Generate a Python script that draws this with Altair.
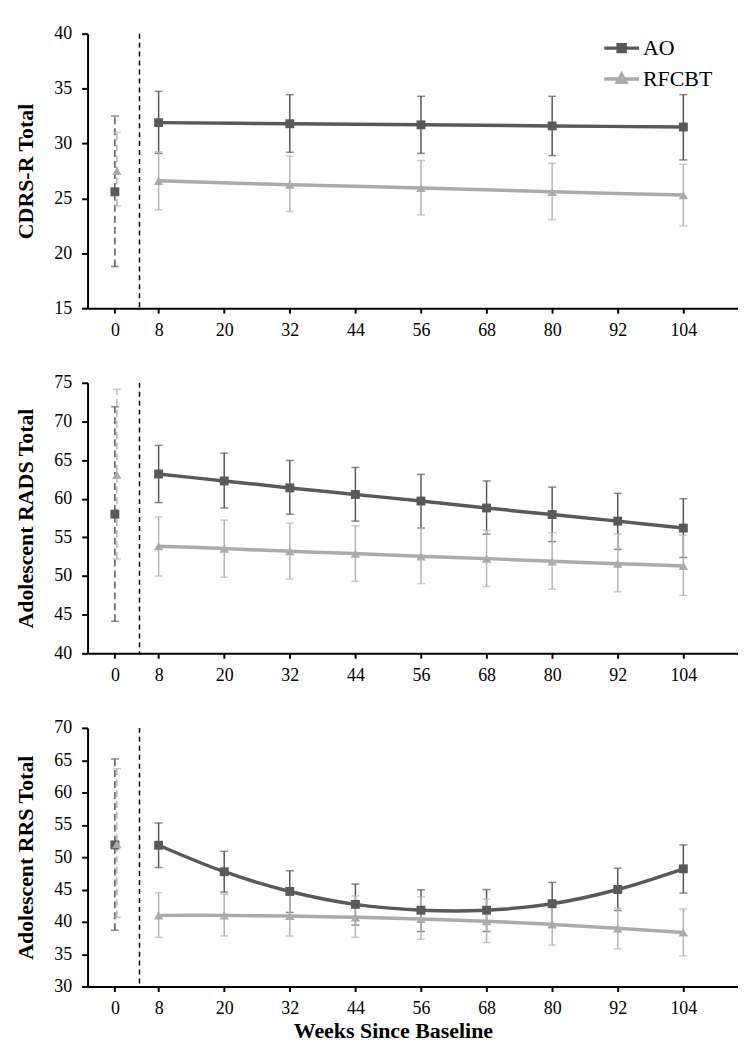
import altair as alt
import pandas as pd

FONT = "Liberation Serif"
X_TICKS = [0, 8, 20, 32, 44, 56, 68, 80, 92, 104]
X_DOMAIN = [-5, 114]
DIVIDER_WEEK = 4.5
SERIES = ["AO", "RFCBT"]
AO_COLOR = "#595959"
RF_COLOR = "#ababab"
AO_BAR = "#595959"
RF_BAR = "#b5b5b5"

# ---- Panel 1: CDRS-R Total ----
P1_WEEKS = [8, 32, 56, 80, 104]
P1_AO = [31.9, 31.8, 31.7, 31.6, 31.5]
P1_AO_HI = [34.75, 34.45, 34.3, 34.3, 34.45]
P1_AO_LO = [29.1, 29.2, 29.1, 28.9, 28.5]
P1_RF = [26.6, 26.25, 25.95, 25.6, 25.3]
P1_RF_HI = [29.25, 28.85, 28.45, 28.2, 28.1]
P1_RF_LO = [23.95, 23.8, 23.5, 23.05, 22.5]
P1_BASE_AO = [25.6, 18.8, 32.5]   # mean, lo, hi
P1_BASE_RF = [27.5, 24.3, 31.0]

# ---- Panel 2: Adolescent RADS Total ----
P2_WEEKS = [8, 20, 32, 44, 56, 68, 80, 92, 104]
P2_AO = [63.2, 62.3, 61.4, 60.55, 59.7, 58.8, 57.95, 57.1, 56.2]
P2_AO_HI = [66.9, 65.9, 64.95, 64.05, 63.15, 62.3, 61.5, 60.7, 60.0]
P2_AO_LO = [59.5, 58.8, 58.0, 57.1, 56.2, 55.4, 54.45, 53.45, 52.4]
P2_RF = [53.85, 53.55, 53.2, 52.9, 52.55, 52.25, 51.9, 51.6, 51.3]
P2_RF_HI = [57.65, 57.25, 56.85, 56.5, 56.2, 55.9, 55.6, 55.45, 55.3]
P2_RF_LO = [50.0, 49.85, 49.6, 49.3, 49.0, 48.65, 48.3, 47.95, 47.5]
P2_BASE_AO = [58.0, 44.15, 71.9]
P2_BASE_RF = [63.1, 52.2, 74.15]

# ---- Panel 3: Adolescent RRS Total ----
P3_WEEKS = [8, 20, 32, 44, 56, 68, 80, 92, 104]
P3_AO = [51.85, 47.75, 44.7, 42.7, 41.8, 41.8, 42.8, 45.0, 48.2]
P3_AO_HI = [55.3, 50.9, 47.9, 45.85, 44.95, 45.0, 46.1, 48.3, 51.9]
P3_AO_LO = [48.4, 44.6, 41.45, 39.5, 38.5, 38.5, 39.6, 41.75, 44.45]
P3_RF = [41.0, 41.0, 40.9, 40.7, 40.45, 40.1, 39.6, 39.0, 38.35]
P3_RF_HI = [44.5, 44.3, 44.1, 44.0, 43.85, 43.5, 42.9, 42.1, 42.0]
P3_RF_LO = [37.6, 37.8, 37.8, 37.6, 37.3, 36.8, 36.4, 35.8, 34.75]
P3_BASE_AO = [51.9, 38.7, 65.2]
P3_BASE_RF = [52.0, 40.7, 63.7]

# legend symbols: line with marker in the middle
AO_LEG_PATH = "M-1.4,0L1.4,0M-0.28,-0.28L0.28,-0.28L0.28,0.28L-0.28,0.28Z"
RF_LEG_PATH = "M-1.4,0L1.4,0M0,-0.36L0.34,0.26L-0.34,0.26Z"


def build_df(weeks, ao, ao_lo, ao_hi, rf, rf_lo, rf_hi, base_ao, base_rf):
    rows = []
    rows.append(dict(week=0, mean=base_ao[0], lo=base_ao[1], hi=base_ao[2], series="AO", phase="base"))
    rows.append(dict(week=0, mean=base_rf[0], lo=base_rf[1], hi=base_rf[2], series="RFCBT", phase="base"))
    for i, w in enumerate(weeks):
        rows.append(dict(week=w, mean=ao[i], lo=ao_lo[i], hi=ao_hi[i], series="AO", phase="follow"))
    for i, w in enumerate(weeks):
        rows.append(dict(week=w, mean=rf[i], lo=rf_lo[i], hi=rf_hi[i], series="RFCBT", phase="follow"))
    return pd.DataFrame(rows)


def panel(df, ytitle, ydomain, ystep, height, x_title=None, legend=False):
    xscale = alt.Scale(domain=X_DOMAIN, nice=False, zero=False)
    if x_title is None:
        xaxis = alt.Axis(values=X_TICKS, title=None, tickSize=5, labelPadding=8)
    else:
        xaxis = alt.Axis(values=X_TICKS, title=x_title, tickSize=5, labelPadding=8,
                         titleX=307, titleAnchor="middle", titleFontSize=22, titlePadding=3)
    yvals = list(range(ydomain[0], ydomain[1] + 1, ystep))
    yscale = alt.Scale(domain=ydomain, nice=False, zero=False)
    yaxis = alt.Axis(values=yvals, title=ytitle, tickSize=6, labelPadding=10, titlePadding=16)

    def X():
        return alt.X("week:Q", scale=xscale, axis=xaxis, title=x_title)

    def Y(field):
        return alt.Y(f"{field}:Q", scale=yscale, axis=yaxis, title=ytitle)

    base = alt.Chart(df)
    layers = []
    divider = alt.Chart(pd.DataFrame({"week": [DIVIDER_WEEK]})).mark_rule(
        color="black", strokeDash=[5, 4], strokeWidth=1.5
    ).encode(x=X())
    layers.append(divider)

    specs = [
        ("AO", AO_COLOR, AO_BAR, "square", 80, 0),
        ("RFCBT", RF_COLOR, RF_BAR, "triangle-up", 90, 2),
    ]
    # error bars
    for s, c, bc, sh, sz, off in specs:
        fol = base.transform_filter(f"datum.series == '{s}' && datum.phase == 'follow'")
        bas = base.transform_filter(f"datum.series == '{s}' && datum.phase == 'base'")
        layers.append(fol.mark_rule(color=bc, strokeWidth=1.5).encode(x=X(), y=Y("lo"), y2="hi:Q"))
        layers.append(fol.mark_tick(color=bc, orient="horizontal", size=8, thickness=1.5).encode(x=X(), y=Y("lo")))
        layers.append(fol.mark_tick(color=bc, orient="horizontal", size=8, thickness=1.5).encode(x=X(), y=Y("hi")))
        layers.append(bas.mark_rule(color=bc, strokeWidth=1.5, strokeDash=[7, 4], xOffset=off).encode(x=X(), y=Y("lo"), y2="hi:Q"))
        layers.append(bas.mark_tick(color=bc, orient="horizontal", size=8, thickness=1.5, xOffset=off).encode(x=X(), y=Y("lo")))
        layers.append(bas.mark_tick(color=bc, orient="horizontal", size=8, thickness=1.5, xOffset=off).encode(x=X(), y=Y("hi")))
    # lines
    for s, c, bc, sh, sz, off in specs:
        fol = base.transform_filter(f"datum.series == '{s}' && datum.phase == 'follow'")
        layers.append(fol.mark_line(color=c, strokeWidth=3.5, interpolate="catmull-rom").encode(
            x=X(), y=Y("mean"), order="week:Q"))
    # markers
    for s, c, bc, sh, sz, off in specs:
        fol = base.transform_filter(f"datum.series == '{s}' && datum.phase == 'follow'")
        bas = base.transform_filter(f"datum.series == '{s}' && datum.phase == 'base'")
        layers.append(fol.mark_point(filled=True, shape=sh, size=sz, color=c, opacity=1).encode(x=X(), y=Y("mean")))
        layers.append(bas.mark_point(filled=True, shape=sh, size=sz, color=c, opacity=1, xOffset=off).encode(x=X(), y=Y("mean")))

    if legend:
        leg = alt.Legend(orient="none", legendX=522.5, legendY=0, title=None,
                         labelFont=FONT, labelFontSize=22, labelColor="black",
                         symbolSize=625, symbolStrokeWidth=3.5, rowPadding=5,
                         labelOffset=7, symbolOpacity=1)
        dom = SERIES
        leg_layer = base.transform_filter("false").mark_point(filled=True, strokeWidth=3.5).encode(
            x=X(), y=Y("mean"),
            color=alt.Color("series:N", scale=alt.Scale(domain=dom, range=[AO_COLOR, RF_COLOR]), legend=leg),
            stroke=alt.Stroke("series:N", scale=alt.Scale(domain=dom, range=[AO_COLOR, RF_COLOR]), legend=leg),
            shape=alt.Shape("series:N", scale=alt.Scale(domain=dom, range=[AO_LEG_PATH, RF_LEG_PATH]), legend=leg),
        )
        layers.append(leg_layer)

    return alt.layer(*layers).properties(width=654, height=height)


df1 = build_df(P1_WEEKS, P1_AO, P1_AO_LO, P1_AO_HI, P1_RF, P1_RF_LO, P1_RF_HI, P1_BASE_AO, P1_BASE_RF)
df2 = build_df(P2_WEEKS, P2_AO, P2_AO_LO, P2_AO_HI, P2_RF, P2_RF_LO, P2_RF_HI, P2_BASE_AO, P2_BASE_RF)
df3 = build_df(P3_WEEKS, P3_AO, P3_AO_LO, P3_AO_HI, P3_RF, P3_RF_LO, P3_RF_HI, P3_BASE_AO, P3_BASE_RF)

p1 = panel(df1, "CDRS-R Total", [15, 40], 5, 276, legend=True)
p2 = panel(df2, "Adolescent RADS Total", [40, 75], 5, 272)
p3 = panel(df3, "Adolescent RRS Total", [30, 70], 5, 260, x_title="Weeks Since Baseline")

chart = alt.vconcat(p1, p2, p3, spacing=35).resolve_scale(
    x="independent", y="independent", color="independent", shape="independent", stroke="independent"
).resolve_legend(
    color="independent", shape="independent", stroke="independent"
).properties(
    padding={"left": 7, "top": 14, "right": 0, "bottom": 0},
    background="white",
).configure_view(stroke=None).configure_axis(
    grid=False,
    domainColor="black", domainWidth=2,
    tickColor="black", tickWidth=2,
    labelFont=FONT, labelFontSize=18, labelColor="black",
    titleFont=FONT, titleFontSize=22, titleFontWeight="bold", titleColor="black",
)

chart.save("out.html", embed_options={"renderer": "svg", "actions": False})
